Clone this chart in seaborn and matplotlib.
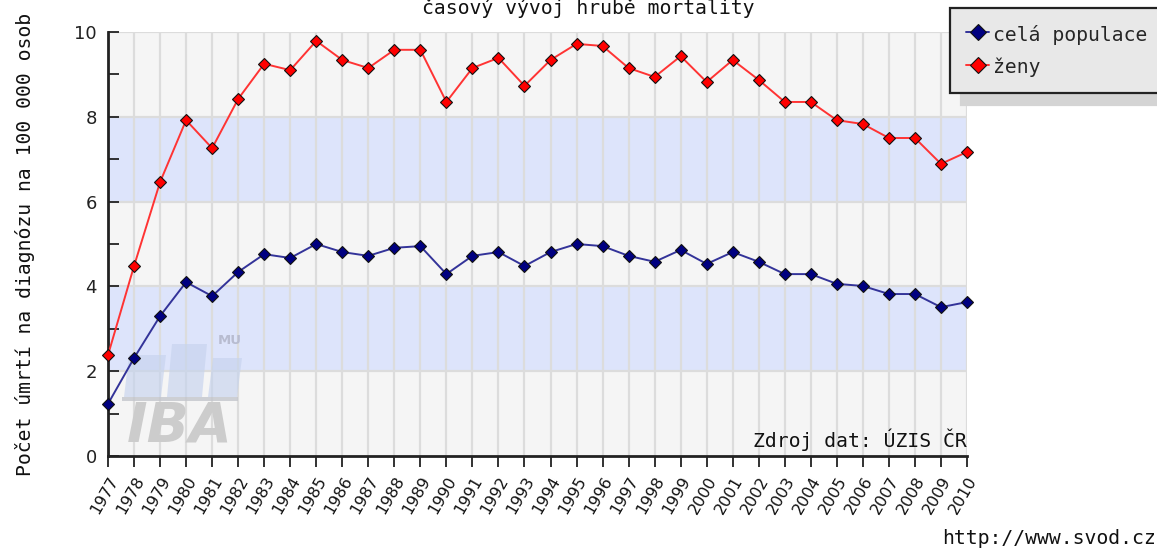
import matplotlib
matplotlib.use("Agg")
import matplotlib.pyplot as plt
import seaborn as sns
import pandas as pd
from matplotlib.patches import Rectangle, Polygon

years = list(range(1977, 2011))
cela_populace = [1.23, 2.31, 3.30, 4.10, 3.77, 4.34, 4.76, 4.67, 5.00, 4.81,
                 4.72, 4.91, 4.95, 4.29, 4.72, 4.81, 4.48, 4.81, 5.00, 4.95,
                 4.72, 4.58, 4.86, 4.53, 4.81, 4.58, 4.29, 4.29, 4.06, 4.01,
                 3.82, 3.82, 3.51, 3.63]
zeny = [2.38, 4.48, 6.46, 7.92, 7.26, 8.42, 9.25, 9.10, 9.79, 9.34,
        9.15, 9.58, 9.58, 8.35, 9.15, 9.39, 8.73, 9.34, 9.72, 9.67,
        9.15, 8.94, 9.43, 8.82, 9.34, 8.87, 8.35, 8.35, 7.92, 7.83,
        7.50, 7.50, 6.89, 7.17]
series_names = ["celá populace", "ženy"]
yticks = [0, 2, 4, 6, 8, 10]

title = "časový vývoj hrubě mortality"
ylabel = "Počet úmrtí na diagnózu na 100 000 osob"
source = "Zdroj dat: ÚZIS ČR"
url = "http://www.svod.cz"

sns.set_theme(style="white")
mono = ["DejaVu Sans Mono"]
sans = ["DejaVu Sans"]
MONO_SIZE = 14.2

W, H = 1157, 548
fig = plt.figure(figsize=(W / 100, H / 100), dpi=100)
ax = fig.add_axes([108 / W, 1 - 456 / H, (967 - 108) / W, (456 - 32) / H])

# background bands
ax.set_facecolor("#f5f5f5")
for lo in (2, 6):
    ax.axhspan(lo, lo + 2, color="#dde4fb", zorder=0, lw=0)

# grid
for yv in range(1977, 2011):
    ax.axvline(yv, color="#dcdcdc", lw=1.6, zorder=0.5)
for yt in yticks[1:]:
    ax.axhline(yt, color="#dcdcdc", lw=1.6, zorder=0.5)

# watermark
tr = ax.transAxes
def px(x, y):
    return ((x - 108) / 859, (456 - y) / 424)
ax.add_patch(Rectangle(px(122, 401), 116 / 859, 4 / 424, transform=tr,
                       color="#c4c6cc", alpha=0.8, zorder=0.6, lw=0))
for (x0, x1, top) in [(124, 166, 355), (167, 207, 344), (208, 242, 358)]:
    pts = [px(x0, 397), px(x1 - 5, 397), px(x1, top), px(x0 + 5, top)]
    ax.add_patch(Polygon(pts, closed=True, transform=tr, color="#c6d3ee",
                         alpha=0.65, zorder=0.6, lw=0))
ax.text(*px(180, 426), "IBA", transform=tr, ha="center", va="center",
        fontsize=40, fontweight="bold", fontstyle="italic", color="#cccccc",
        family=sans, zorder=0.6)
ax.text(*px(230, 340), "MU", transform=tr, ha="center", va="center",
        fontsize=9.5, fontweight="bold", color="#b8bcd0", family=sans, zorder=0.6)

df = pd.DataFrame({"rok": years + years,
                   "hodnota": cela_populace + zeny,
                   "serie": [series_names[0]] * len(years) + [series_names[1]] * len(years)})

line_colors = {series_names[0]: "#333399", series_names[1]: "#ff3333"}
marker_colors = {series_names[0]: "#000080", series_names[1]: "#ff0000"}
for name in series_names:
    sub = df[df["serie"] == name]
    sns.lineplot(data=sub, x="rok", y="hodnota", ax=ax, color=line_colors[name],
                 lw=1.4, marker="D", markersize=6.5, markerfacecolor=marker_colors[name],
                 markeredgecolor="#111111", markeredgewidth=0.8, label=name,
                 legend=False, zorder=3, clip_on=False)

ax.set_xlim(1977, 2010)
ax.set_ylim(0, 10)
ax.set_xticks(years)
ax.set_xticklabels([str(y) for y in years], rotation=60, ha="right",
                   rotation_mode="anchor", fontsize=11.5, family=sans, color="#111111")
ax.set_yticks(yticks)
ax.set_yticklabels([str(v) for v in yticks], fontsize=13, family=sans, color="#222222")
ax.set_yticks(range(1, 10, 2), minor=True)
ax.tick_params(axis="x", which="major", direction="out", length=8, width=1.3,
               color="#222222", pad=5, bottom=True)
ax.tick_params(axis="y", which="both", direction="in", length=8, width=1.3,
               color="#222222", pad=8, left=True)
for s in ("top", "right"):
    ax.spines[s].set_visible(False)
for s in ("left", "bottom"):
    ax.spines[s].set_color("#222222")
    ax.spines[s].set_linewidth(2)
ax.set_xlabel("")
ax.set_ylabel("")

fig.text(0.5 * (420 + 757) / W, 1 - 8 / H, title, ha="center", va="center",
         fontsize=MONO_SIZE, family=mono, color="#111111")
fig.text(25 / W, 1 - 244 / H, ylabel, rotation=90, ha="center", va="center",
         fontsize=MONO_SIZE, family=mono, color="#111111")
ax.text(1.0, 0.012, source, transform=tr, ha="right", va="bottom",
        fontsize=MONO_SIZE, family=mono, color="#111111", zorder=4)
fig.text(1156 / W, 1 - 538 / H, url, ha="right", va="center",
         fontsize=MONO_SIZE, family=mono, color="#111111")

handles, labels = ax.get_legend_handles_labels()
leg = fig.legend(handles, labels, loc="upper left",
                 bbox_to_anchor=(950 / W, 1 - 8 / H), frameon=True,
                 fancybox=False, prop={"family": mono[0], "size": MONO_SIZE},
                 handlelength=1.2, handleheight=1.2, handletextpad=0.2,
                 borderpad=0.8, labelspacing=0.6, borderaxespad=0, markerscale=1.3,
                 shadow={"color": "#d4d4d4", "alpha": 1, "ox": 8, "oy": -9})
leg.get_frame().set_facecolor("#e8e8e8")
leg.get_frame().set_edgecolor("#222222")
leg.get_frame().set_linewidth(1.6)
leg.get_frame().set_alpha(1)

fig.savefig("out.png", dpi=100, facecolor="white")
